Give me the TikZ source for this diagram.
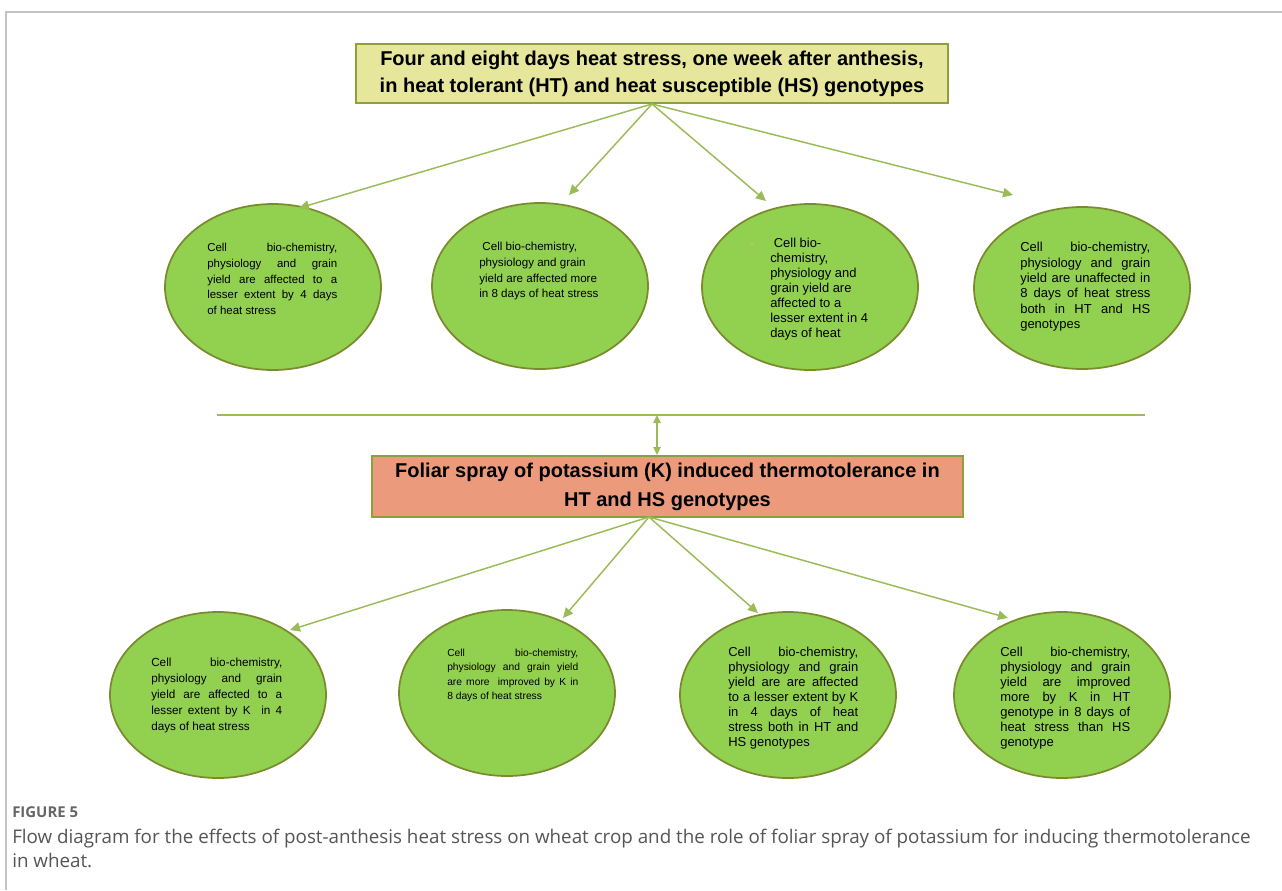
\documentclass[tikz,border=0pt]{standalone}
\usepackage{fontspec}
\setmainfont{Liberation Sans}
\newfontfamily\capfont{Open Sans}
\usetikzlibrary{shapes.geometric,arrows.meta,calc}
\definecolor{ellfill}{HTML}{92D050}
\definecolor{elldraw}{HTML}{7A8A2C}
\definecolor{arrcol}{HTML}{9BBB59}
\definecolor{topfill}{HTML}{E6E69C}
\definecolor{botfill}{HTML}{EC9A7C}
\definecolor{boxdraw}{HTML}{8CA03C}
\definecolor{capgray}{HTML}{555555}
\definecolor{figgray}{HTML}{666666}
\definecolor{framegray}{HTML}{C4C4C4}
\definecolor{dotcol}{HTML}{C9C27A}
\newcommand{\J}[2][97.5pt]{\makebox[#1][s]{#2}}
\begin{document}
\begin{tikzpicture}[x=0.75pt,y=-0.75pt,
  ell/.style={ellipse, fill=ellfill, draw=elldraw, line width=1.3pt, inner sep=0pt,
    minimum width=162pt, minimum height=124.5pt},
  etext/.style={anchor=north west, inner sep=0pt, align=left, text=black},
  arr/.style={draw=arrcol, line width=1.1pt, -{Triangle[length=7.5pt,width=7pt]}},
  darr/.style={draw=arrcol, line width=1.1pt, {Triangle[length=6pt,width=5.5pt]}-{Triangle[length=6pt,width=5.5pt]}},
  ln/.style={draw=arrcol, line width=1.1pt},
  titlebox/.style={draw=boxdraw, line width=1.5pt, inner sep=0pt, align=center,
    font=\bfseries\fontsize{15}{20.25}\selectfont}]
\useasboundingbox (0,0) rectangle (1282,890);
\fill[white] (0,0) rectangle (1282,890);
% frame
\draw[framegray, line width=0.9pt] (1282,12) -- (6,12) -- (6,890);

% title boxes
\node[titlebox, fill=topfill, minimum width=444pt, minimum height=44.25pt] (top) at (652,73.5)
  {Four and eight days heat stress, one week after anthesis,\\in heat tolerant (HT) and heat susceptible (HS) genotypes};
\node[titlebox, fill=botfill, minimum width=443.25pt, minimum height=45.75pt,
  font=\bfseries\fontsize{15}{21.75}\selectfont] (bot) at (667.5,486.5)
  {Foliar spray of potassium (K) induced thermotolerance in\\HT and HS genotypes};

% ellipses
\node[ell] (e1) at (273,287) {};
\node[ell] (e2) at (540,286) {};
\node[ell] (e3) at (810,287) {};
\node[ell, minimum height=121.5pt] (e4) at (1082,288) {};
\node[ell] (e5) at (218,695) {};
\node[ell] (e6) at (507,693) {};
\node[ell] (e7) at (788,695) {};
\node[ell] (e8) at (1062,695) {};

% ellipse texts
\node[etext, font=\fontsize{8.6}{11.85}\selectfont] (x1) at (207,243)
  {\J{Cell bio-chemistry,}\\\J{physiology and grain}\\\J{yield are affected to a}\\\J{lesser extent by 4 days}\\of heat stress};
\node[etext, font=\fontsize{8.7}{11.8}\selectfont] (x2) at (479,242)
  {\ Cell bio-chemistry,\\physiology and grain\\yield are affected more\\in 8 days of heat stress};
\node[etext, font=\fontsize{9.7}{11.2}\selectfont] (x3) at (770,238)
  {\ Cell bio-\\chemistry,\\physiology and\\grain yield are\\affected to a\\lesser extent in 4\\days of heat};
\fill[dotcol] (752,244) circle (1.3);
\node[etext, font=\fontsize{9.75}{11.55}\selectfont] (x4) at (1020,242)
  {\J{Cell bio-chemistry,}\\\J{physiology and grain}\\\J{yield are unaffected in}\\\J{8 days of heat stress}\\\J{both in HT and HS}\\genotypes};
\node[etext, font=\fontsize{8.8}{12}\selectfont] (x5) at (151,658)
  {\J[98.25pt]{Cell bio-chemistry,}\\\J[98.25pt]{physiology and grain}\\\J[98.25pt]{yield are affected to a}\\\J[98.25pt]{lesser extent by K\ \ in 4}\\days of heat stress};
\node[etext, font=\fontsize{7.7}{10.65}\selectfont] (x6) at (447,649)
  {\J[98.25pt]{Cell bio-chemistry,}\\\J[98.25pt]{physiology and grain yield}\\\J[98.25pt]{are more\ \ improved by K in}\\8 days of heat stress};
\node[etext, font=\fontsize{9.75}{11.25}\selectfont] (x7) at (728,647)
  {\J{Cell bio-chemistry,}\\\J{physiology and grain}\\\J{yield are are affected}\\\J{to a lesser extent by K}\\\J{in 4 days of heat}\\\J{stress both in HT and}\\HS genotypes};
\node[etext, font=\fontsize{9.75}{11.25}\selectfont] (x8) at (1000,647)
  {\J{Cell bio-chemistry,}\\\J{physiology and grain}\\\J{yield are improved}\\\J{more by K in HT}\\\J{genotype in 8 days of}\\\J{heat stress than HS}\\genotype};

% arrow tips
\coordinate (t1) at (299,208);
\coordinate (t2) at (569,195);
\coordinate (t3) at (766,201);
\coordinate (t4) at (1013,195);
\coordinate (bs) at (649,517);
\coordinate (b1) at (290,630);
\coordinate (b2) at (563,618);
\coordinate (b3) at (758,613);
\coordinate (b4) at (1008,618);

\draw[arr] (top.south) -- (t1);
\draw[arr] (top.south) -- (t2);
\draw[arr] (top.south) -- (t3);
\draw[arr] (top.south) -- (t4);
\draw[arr] (bs) -- (b1);
\draw[arr] (bs) -- (b2);
\draw[arr] (bs) -- (b3);
\draw[arr] (bs) -- (b4);

% collecting line
\coordinate (hL) at (217,415);
\coordinate (hR) at (1145,415);
\draw[ln] (hL) -- (hR);
\draw[ln] ($(e1.south)+(-2,0)$) -- ($(e1.south)+(-2,0)$ |- hL);
\draw[ln] ($(e2.south)+(5,0)$) -- ($(e2.south)+(5,0)$ |- hL);
\draw[ln] ($(e3.south)+(10,0)$) -- ($(e3.south)+(10,0)$ |- hL);
\draw[ln] ($(e4.south)+(3,4)$) -- ($(e4.south)+(3,4)$ |- hL);
\coordinate (dA) at (657,415);
\draw[darr] (dA) -- (dA |- bot.north);

% caption
\node[anchor=base west, inner sep=0pt, text=figgray, font=\capfont\bfseries\fontsize{11.2}{13}\selectfont] (fig) at (12,817) {FIGURE 5};
\node[anchor=base west, inner sep=0pt, text=capgray, font=\capfont\fontsize{14.1}{18}\selectfont] (cap1) at (12,843.5)
  {Flow diagram for the effects of post-anthesis heat stress on wheat crop and the role of foliar spray of potassium for inducing thermotolerance};
\node[anchor=base west, inner sep=0pt, text=capgray, font=\capfont\fontsize{14.1}{18}\selectfont] (cap2) at (12,867.5) {in wheat.};
\end{tikzpicture}
\end{document}
